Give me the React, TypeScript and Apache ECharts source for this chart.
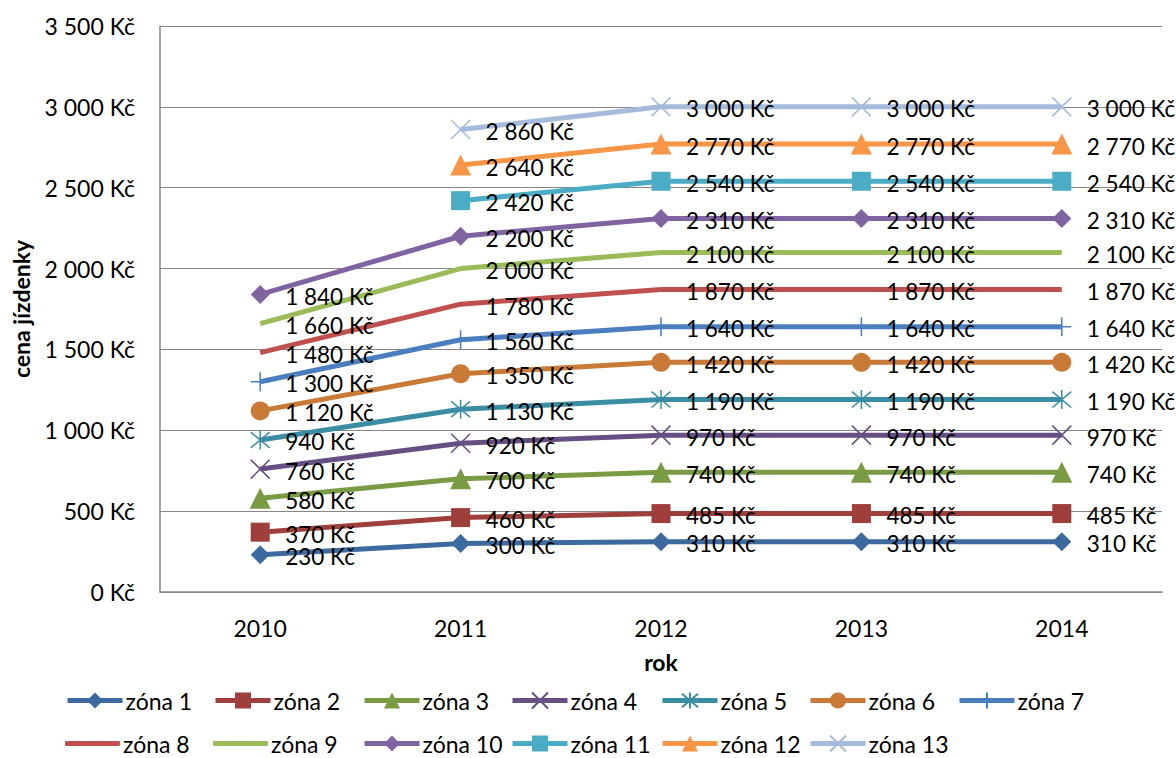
import React, { useEffect, useRef } from "react";
import * as echarts from "echarts";

const years = ["2010", "2011", "2012", "2013", "2014"];
const zoneNames = [
  "zóna 1", "zóna 2", "zóna 3", "zóna 4", "zóna 5", "zóna 6", "zóna 7",
  "zóna 8", "zóna 9", "zóna 10", "zóna 11", "zóna 12", "zóna 13",
];
const zone1 = [230, 300, 310, 310, 310];
const zone2 = [370, 460, 485, 485, 485];
const zone3 = [580, 700, 740, 740, 740];
const zone4 = [760, 920, 970, 970, 970];
const zone5 = [940, 1130, 1190, 1190, 1190];
const zone6 = [1120, 1350, 1420, 1420, 1420];
const zone7 = [1300, 1560, 1640, 1640, 1640];
const zone8 = [1480, 1780, 1870, 1870, 1870];
const zone9 = [1660, 2000, 2100, 2100, 2100];
const zone10 = [1840, 2200, 2310, 2310, 2310];
const zone11 = [null, 2420, 2540, 2540, 2540];
const zone12 = [null, 2640, 2770, 2770, 2770];
const zone13 = [null, 2860, 3000, 3000, 3000];
const zoneData = [zone1, zone2, zone3, zone4, zone5, zone6, zone7, zone8, zone9, zone10, zone11, zone12, zone13];

const colors = [
  "#3D6A9E", "#9E3F3C", "#7A9A44", "#654F83", "#3A8DA3", "#C97A36", "#4A7EBF",
  "#C0504D", "#9BBB59", "#8064A2", "#4BACC6", "#F79646", "#A6BADB",
];

const X_PATH = "path://M0,0L20,20M20,0L0,20";
const STAR_PATH = "path://M0,0L20,20M20,0L0,20M10,-2L10,22";
const PLUS_PATH = "path://M10,0L10,20M0,10L20,10";
const symbols = [
  "diamond", "rect", "triangle", X_PATH, STAR_PATH, "circle", PLUS_PATH,
  "none", "none", "diamond", "rect", "triangle", X_PATH,
];

const FONT = "Lato";
const fmt = (v: number) => String(v).replace(/\B(?=(\d{3})+(?!\d))/g, " ") + " Kč";

const legendCols = [65, 213, 362, 510, 660, 808, 957];
const legendRows = [689, 732];

export default function App() {
  const ref = useRef<HTMLDivElement>(null);
  useEffect(() => {
    if (!ref.current) return;
    const chart = echarts.init(ref.current, undefined, { renderer: "svg" });
    const isStroke = (s: string) => s.startsWith("path://");
    const lineSeries = zoneNames.map((name, i) => ({
      name,
      type: "line",
      data: zoneData[i],
      symbol: symbols[i],
      symbolSize: i === 2 || i === 11 ? 21 : 19,
      showSymbol: symbols[i] !== "none",
      lineStyle: { color: colors[i], width: 5 },
      itemStyle: isStroke(symbols[i])
        ? { color: colors[i], borderColor: colors[i], borderWidth: 1.5 }
        : { color: colors[i] },
      emphasis: { disabled: true },
      silent: true,
      z: 2,
    }));
    const labelSeries = zoneNames.map((name, i) => ({
      name: name + " lbl",
      type: "line",
      data: zoneData[i],
      symbol: "circle",
      symbolSize: 20,
      lineStyle: { width: 0, opacity: 0 },
      itemStyle: { color: "rgba(0,0,0,0)" },
      label: {
        show: true,
        position: "right",
        distance: 15,
        offset: [0, 2],
        formatter: (p: any) => fmt(p.value),
        color: "#000",
        fontFamily: FONT,
        fontSize: 22.5,
      },
      emphasis: { disabled: true },
      silent: true,
      z: 5,
    }));
    const legends = zoneNames.map((name, i) => {
      const noSym = symbols[i] === "none";
      return {
        data: noSym ? [{ name, icon: "roundRect" }] : [name],
        left: legendCols[i % 7],
        top: legendRows[Math.floor(i / 7)],
        padding: 0,
        itemWidth: 55,
        itemHeight: noSym ? 5 : 20,
        itemGap: 0,
        selectedMode: false,
        lineStyle: { width: 5 },
        textStyle: {
          fontFamily: FONT, fontSize: 23, color: "#000", padding: [0, 0, 0, -2],
          lineHeight: 23,
        },
      };
    });
    chart.setOption({
      animation: false,
      grid: { left: 160, right: 14, top: 26, bottom: 166 },
      legend: legends,
      xAxis: {
        type: "category",
        data: years,
        boundaryGap: true,
        name: "rok",
        nameLocation: "middle",
        nameGap: 58,
        nameTextStyle: { fontFamily: FONT, fontSize: 23, fontWeight: "bold", color: "#000" },
        axisLine: { lineStyle: { color: "#868686", width: 1.5 } },
        axisTick: { show: false },
        axisLabel: { fontFamily: FONT, fontSize: 23, color: "#000", margin: 24 },
      },
      yAxis: {
        type: "value",
        min: 0,
        max: 3500,
        interval: 500,
        name: "cena jízdenky",
        nameLocation: "middle",
        nameGap: 128,
        nameTextStyle: { fontFamily: FONT, fontSize: 23, fontWeight: "bold", color: "#000" },
        axisLine: { show: true, lineStyle: { color: "#868686", width: 1.5 } },
        axisTick: { show: false },
        splitLine: { lineStyle: { color: "#868686", width: 1.2 } },
        axisLabel: { fontFamily: FONT, fontSize: 23, color: "#000", margin: 25, formatter: (v: number) => fmt(v) },
      },
      series: [...lineSeries, ...labelSeries],
    });
    return () => chart.dispose();
  }, []);
  return (
    <div
      ref={ref}
      style={{ position: "fixed", left: 0, top: 0, width: 1176, height: 758, background: "#fff" }}
    />
  );
}
